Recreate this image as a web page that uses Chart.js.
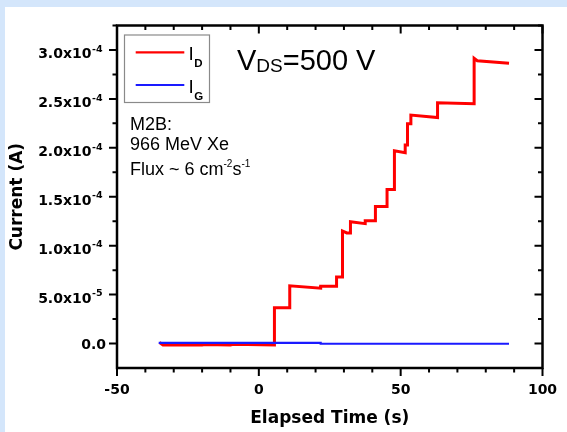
<!DOCTYPE html>
<html>
<head>
<meta charset="utf-8">
<title>Current vs Elapsed Time</title>
<script src="https://cdn.jsdelivr.net/npm/chart.js@4.4.0/dist/chart.umd.min.js"></script>
<style>
  html, body { margin: 0; padding: 0; background: #fff; }
  #grafico { display: block; }
</style>
</head>
<body>
<canvas id="grafico" width="567" height="432"></canvas>
<script>
// I_D (drain) trace, time in s and current in A
var tiempoD = [-35.0, -33.8, -20.0, -19.0, -10.0, -9.0, 5.5, 5.5, 10.9, 10.9, 21.8, 21.8, 27.4, 27.4,
  29.5, 29.5, 31.0, 32.3, 32.3, 37.5, 37.5, 41.1, 41.1, 45.2, 45.2, 47.8, 47.8, 51.6, 51.6,
  52.4, 52.4, 53.6, 53.6, 63.0, 63.0, 75.9, 75.9, 77.0, 88.2];
var corrienteD = [1.0e-6, -1.5e-6, -1.5e-6, -1.0e-6, -1.5e-6, -0.8e-6, -1.5e-6, 3.65e-5, 3.65e-5, 5.9e-5, 5.65e-5, 5.85e-5, 5.85e-5, 6.8e-5,
  6.8e-5, 1.15e-4, 1.13e-4, 1.13e-4, 1.245e-4, 1.225e-4, 1.255e-4, 1.255e-4, 1.40e-4, 1.40e-4, 1.575e-4, 1.575e-4, 1.97e-4, 1.95e-4, 2.03e-4,
  2.03e-4, 2.245e-4, 2.245e-4, 2.335e-4, 2.31e-4, 2.46e-4, 2.45e-4, 2.915e-4, 2.89e-4, 2.865e-4];

// I_G (gate) trace
var tiempoG = [-35.3, 21.8, 21.8, 88.2];
var corrienteG = [0.7e-6, 0.7e-6, -0.2e-6, -0.2e-6];

// axis ticks
var xEtiquetas = [-50, 0, 50, 100];
var yTicks = [0, 5e-5, 1e-4, 1.5e-4, 2e-4, 2.5e-4, 3e-4];
var yMantisa = ['0.0', '5.0x10', '1.0x10', '1.5x10', '2.0x10', '2.5x10', '3.0x10'];
var yExponente = ['', '-5', '-4', '-4', '-4', '-4', '-4'];

const fuenteEje = "'DejaVu Sans', sans-serif";
const fuenteTexto = "'Liberation Sans', Arial, sans-serif";

function puntos(xs, ys) {
  var p = [];
  for (var i = 0; i < xs.length; i++) p.push({ x: xs[i], y: ys[i] });
  return p;
}

// white panel with the light blue strips
const fondo = {
  id: 'fondo',
  beforeDraw(chart) {
    const ctx = chart.ctx;
    ctx.save();
    ctx.fillStyle = '#ffffff';
    ctx.fillRect(0, 0, chart.width, chart.height);
    ctx.fillStyle = '#d4e6fb';
    ctx.fillRect(0, 0, chart.width, 7);
    ctx.fillRect(0, 0, 5, chart.height);
    ctx.restore();
  }
};

function texto(ctx, s, x, y, font) {
  ctx.font = font;
  ctx.fillText(s, x, y);
  return x + ctx.measureText(s).width;
}

// frame, tick marks (out on left/bottom, in on top/right), y labels, legend and notes
const marco = {
  id: 'marco',
  afterDraw(chart) {
    const ctx = chart.ctx;
    const a = chart.chartArea;
    const sx = chart.scales.x;
    const sy = chart.scales.y;
    const largo = 8, corto = 4.5;
    ctx.save();
    ctx.strokeStyle = '#000';
    ctx.lineWidth = 2;
    ctx.beginPath();
    for (var k = -5; k <= 10; k++) {
      var px = sx.getPixelForValue(k * 10);
      var l = (k % 5 === 0) ? largo : corto;
      ctx.moveTo(px, a.bottom); ctx.lineTo(px, a.bottom + l);
      ctx.moveTo(px, a.top); ctx.lineTo(px, a.top + l);
    }
    for (var j = 0; j <= 13; j++) {
      var py = sy.getPixelForValue(j * 2.5e-5);
      var m = (j % 2 === 0) ? largo : corto;
      ctx.moveTo(a.left - m, py); ctx.lineTo(a.left, py);
      ctx.moveTo(a.right - m, py); ctx.lineTo(a.right, py);
    }
    ctx.stroke();
    ctx.lineWidth = 2.5;
    ctx.strokeRect(a.left, a.top, a.right - a.left, a.bottom - a.top);

    // y tick labels with exponent
    ctx.fillStyle = '#000';
    ctx.textBaseline = 'alphabetic';
    for (var i = 0; i < yTicks.length; i++) {
      var y = sy.getPixelForValue(yTicks[i]);
      var derecha = a.left - 14.5;
      if (yExponente[i]) {
        ctx.font = 'bold 9.5px ' + fuenteEje;
        var w = ctx.measureText(yExponente[i]).width;
        ctx.textAlign = 'right';
        ctx.fillText(yExponente[i], derecha, y + 1.7);
        ctx.font = 'bold 14px ' + fuenteEje;
        ctx.fillText(yMantisa[i], derecha - w - 0.5, y + 8.3);
      } else {
        ctx.font = 'bold 14px ' + fuenteEje;
        ctx.textAlign = 'right';
        ctx.fillText(yMantisa[i], a.left - 11, y + 5.2);
      }
    }

    // legend
    ctx.textAlign = 'left';
    const ds = chart.data.datasets;
    ctx.strokeStyle = '#8a8a8a';
    ctx.lineWidth = 1.2;
    ctx.strokeRect(124.5, 35, 85, 67.5);
    var filas = [
      { color: ds[1].borderColor, y: 52.3, sub: 'D' },
      { color: ds[0].borderColor, y: 85, sub: 'G' }
    ];
    filas.forEach(function (f) {
      ctx.strokeStyle = f.color;
      ctx.lineWidth = 2.2;
      ctx.beginPath();
      ctx.moveTo(135.7, f.y); ctx.lineTo(184.3, f.y);
      ctx.stroke();
      var xs = texto(ctx, 'I', 188.5, f.y + 7.5, '19px ' + fuenteTexto);
      texto(ctx, f.sub, xs + 0.5, f.y + 15, 'bold 11.5px ' + fuenteTexto);
    });

    // V_DS note
    var x = texto(ctx, 'V', 237, 70, '29px ' + fuenteTexto);
    x = texto(ctx, 'DS', x, 72, '19px ' + fuenteTexto);
    texto(ctx, '=500 V', x, 70, '29px ' + fuenteTexto);

    // beam conditions
    texto(ctx, 'M2B:', 130, 130, '18px ' + fuenteTexto);
    texto(ctx, '966 MeV Xe', 130, 150, '18px ' + fuenteTexto);
    x = texto(ctx, 'Flux ~ 6 cm', 130, 175, '18px ' + fuenteTexto);
    x = texto(ctx, '-2', x, 167, '10px ' + fuenteTexto);
    x = texto(ctx, 's', x, 175, '18px ' + fuenteTexto);
    texto(ctx, '-1', x, 167, '10px ' + fuenteTexto);
    ctx.restore();
  }
};

const ctx = document.getElementById('grafico');

var grafico = new Chart(ctx, {
  type: 'line',
  data: {
    datasets: [
      {
        label: 'IG',
        data: puntos(tiempoG, corrienteG),
        borderColor: '#1a1aff',
        borderWidth: 2.2,
        pointRadius: 0,
        tension: 0,
        order: 0
      },
      {
        label: 'ID',
        data: puntos(tiempoD, corrienteD),
        borderColor: '#ff0000',
        borderWidth: 3,
        pointRadius: 0,
        tension: 0,
        order: 1
      }
    ]
  },
  options: {
    responsive: false,
    animation: false,
    devicePixelRatio: 1,
    layout: { padding: { top: 25.5, right: 24.5, left: 0, bottom: 0 } },
    plugins: {
      legend: { display: false },
      tooltip: { enabled: false }
    },
    scales: {
      x: {
        type: 'linear',
        min: -50,
        max: 100,
        afterBuildTicks: function (s) { s.ticks = xEtiquetas.map(function (v) { return { value: v }; }); },
        afterFit: function (s) {
          s.height = 64;
          s.paddingLeft = 0;
          s.paddingRight = 0;
        },
        grid: { display: false, drawTicks: false },
        border: { display: false },
        ticks: {
          color: '#000',
          padding: 14,
          maxRotation: 0,
          autoSkip: false,
          font: { family: fuenteEje, size: 14, weight: 'bold' }
        },
        title: {
          display: true,
          text: 'Elapsed Time (s)',
          color: '#000',
          font: { family: fuenteEje, size: 17, weight: 'bold' },
          padding: { top: 0, bottom: 3 }
        }
      },
      y: {
        type: 'linear',
        min: -2.5e-5,
        max: 3.25e-4,
        afterBuildTicks: function (s) { s.ticks = yTicks.map(function (v) { return { value: v }; }); },
        afterFit: function (s) {
          s.width = 117;
          s.paddingTop = 0;
          s.paddingBottom = 0;
        },
        grid: { display: false, drawTicks: false },
        border: { display: false },
        ticks: { display: false },
        title: {
          display: true,
          text: 'Current (A)',
          color: '#000',
          font: { family: fuenteEje, size: 17, weight: 'bold' },
          padding: { top: 7, bottom: 0 }
        }
      }
    }
  },
  plugins: [fondo, marco]
});
</script>
</body>
</html>
